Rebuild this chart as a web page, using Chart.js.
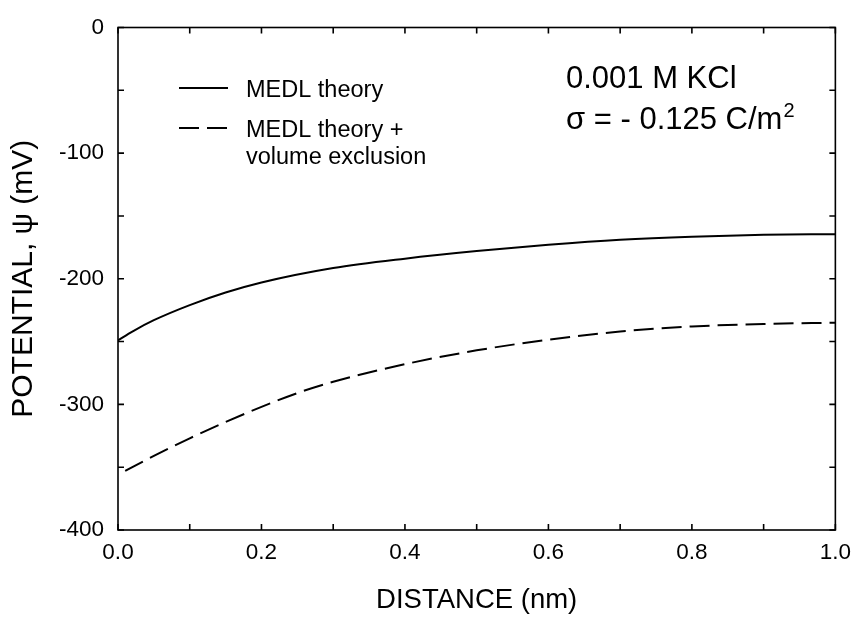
<!DOCTYPE html>
<html>
<head>
<meta charset="utf-8">
<script src="https://cdn.jsdelivr.net/npm/chart.js@4/dist/chart.umd.min.js"></script>
<style>
  html, body { margin: 0; padding: 0; background: #fff; }
  #wrap { width: 860px; height: 619px; }
</style>
</head>
<body>
<div id="wrap"><canvas id="potChart" width="860" height="619"></canvas></div>
<script>
// Distance (nm) and potential (mV)
var solidX = [0, 0.02, 0.05, 0.1, 0.15, 0.2, 0.3, 0.4, 0.5, 0.6, 0.7, 0.8, 0.9, 1.0];
var solidY = [-249, -242, -233, -221, -211, -203, -191.5, -184, -178, -173, -169, -166.5, -165, -164.5];

var dashX = [0.01, 0.05, 0.1, 0.15, 0.2, 0.25, 0.3, 0.4, 0.5, 0.6, 0.7, 0.8, 0.9, 1.0];
var dashY = [-353, -341, -327, -314, -302, -291, -282, -268, -257, -248.5, -242, -238, -236, -235];

var seriesNames = ['MEDL theory', 'MEDL theory +', 'volume exclusion'];
var noteLines = ['0.001 M KCl', 'σ = - 0.125 C/m'];

var FONT = '"Liberation Sans", Arial, Helvetica, sans-serif';

function toPoints(xs, ys) {
    return xs.map(function (x, i) { return { x: x, y: ys[i] }; });
}

// Inward ticks on all four sides, box frame, legend and annotation text
var decorPlugin = {
    id: 'decor',
    afterDraw: function (chart) {
        var ctx = chart.ctx;
        var a = chart.chartArea;
        var xs = chart.scales.x, ys = chart.scales.y;
        var t = 6;
        ctx.save();
        ctx.strokeStyle = '#000';
        ctx.lineWidth = 1.6;
        ctx.strokeRect(a.left, a.top, a.right - a.left, a.bottom - a.top);

        ctx.beginPath();
        for (var v = 0; v <= 10; v++) {
            var px = xs.getPixelForValue(v / 10);
            ctx.moveTo(px, a.bottom); ctx.lineTo(px, a.bottom - t);
            ctx.moveTo(px, a.top); ctx.lineTo(px, a.top + t);
        }
        for (var w = -400; w <= 0; w += 50) {
            var py = ys.getPixelForValue(w);
            ctx.moveTo(a.left, py); ctx.lineTo(a.left + t, py);
            ctx.moveTo(a.right, py); ctx.lineTo(a.right - t, py);
        }
        ctx.stroke();

        // legend
        ctx.lineWidth = 2;
        ctx.beginPath();
        ctx.moveTo(179, 88); ctx.lineTo(228, 88);
        ctx.stroke();
        ctx.setLineDash([20, 8]);
        ctx.beginPath();
        ctx.moveTo(179, 128); ctx.lineTo(228, 128);
        ctx.stroke();
        ctx.setLineDash([]);

        ctx.fillStyle = '#000';
        ctx.textBaseline = 'alphabetic';
        ctx.textAlign = 'left';
        ctx.font = '23.5px ' + FONT;
        ctx.fillText(seriesNames[0], 246, 97);
        ctx.fillText(seriesNames[1], 246, 137);
        ctx.fillText(seriesNames[2], 246, 164);

        // conditions
        ctx.font = '31px ' + FONT;
        ctx.fillText(noteLines[0], 566, 88);
        ctx.fillText(noteLines[1], 566, 129);
        var wSig = ctx.measureText(noteLines[1]).width;
        ctx.font = '20px ' + FONT;
        ctx.fillText('2', 566 + wSig + 1, 117);
        ctx.restore();
    }
};

var ctx = document.getElementById('potChart').getContext('2d');
var myChart = new Chart(ctx, {
    type: 'line',
    data: {
        datasets: [{
            label: seriesNames[0],
            data: toPoints(solidX, solidY),
            borderColor: '#000',
            borderWidth: 2,
            pointRadius: 0,
            cubicInterpolationMode: 'monotone'
        }, {
            label: seriesNames[1] + ' ' + seriesNames[2],
            data: toPoints(dashX, dashY),
            borderColor: '#000',
            borderWidth: 2,
            borderDash: [20, 8],
            pointRadius: 0,
            cubicInterpolationMode: 'monotone'
        }]
    },
    options: {
        responsive: false,
        animation: false,
        layout: { padding: { top: 21, right: 21, left: 0, bottom: 0 } },
        plugins: {
            legend: { display: false },
            tooltip: { enabled: false }
        },
        scales: {
            x: {
                type: 'linear',
                min: 0,
                max: 1,
                grid: { display: false, drawTicks: false },
                border: { display: false },
                ticks: {
                    stepSize: 0.2,
                    padding: 9,
                    color: '#000',
                    font: { family: FONT, size: 22.5 },
                    callback: function (v) { return v.toFixed(1); }
                },
                title: {
                    display: true,
                    text: 'DISTANCE (nm)',
                    color: '#000',
                    font: { family: FONT, size: 27.5 },
                    padding: { top: 0, bottom: 2 }
                },
                afterFit: function (scale) { scale.height = 89; }
            },
            y: {
                min: -400,
                max: 0,
                grid: { display: false, drawTicks: false },
                border: { display: false },
                ticks: {
                    stepSize: 100,
                    padding: 14,
                    color: '#000',
                    font: { family: FONT, size: 22.5 }
                },
                title: {
                    display: true,
                    text: 'POTENTIAL, ψ (mV)',
                    color: '#000',
                    font: { family: FONT, size: 30 },
                    padding: { top: 6, bottom: 0 }
                },
                afterFit: function (scale) { scale.width = 118; }
            }
        }
    },
    plugins: [decorPlugin]
});
</script>
</body>
</html>
